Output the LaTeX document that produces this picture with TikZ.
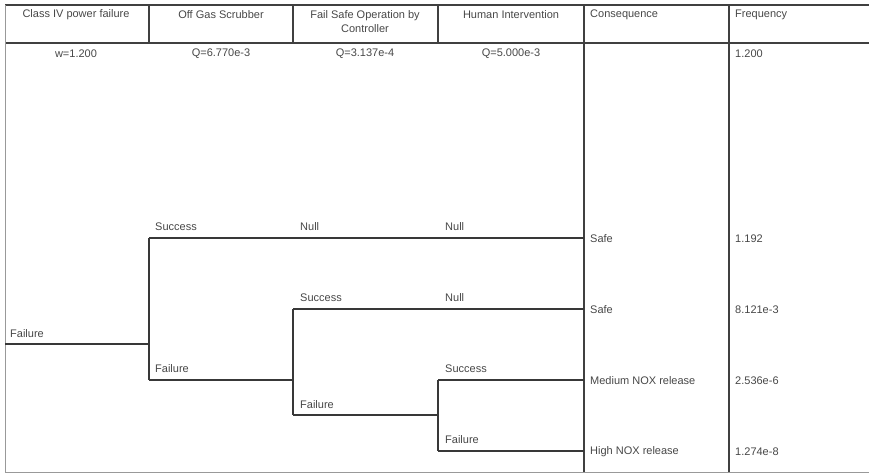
\documentclass[tikz,border=0pt]{standalone}
\usepackage{fontspec}
\setmainfont{Liberation Sans}
\begin{document}
\begin{tikzpicture}[x=1pt,y=-1pt,
  txt/.style={font=\fontsize{11}{14}\selectfont, text=black!72, inner sep=0pt},
  head/.style={txt, align=center, anchor=center},
  headl/.style={txt, anchor=west},
  lbl/.style={txt, anchor=west},
  tree/.style={line width=1.8pt, draw=black!78},
  frame/.style={line width=1.3pt, draw=black!75},
  edge/.style={line width=1pt, draw=black!40},
]
\useasboundingbox (0,0) rectangle (869,473);

% ---- table frame ----
\draw[frame] (5,5) -- (869,5);
\draw[frame] (5,43) -- (869,43);
\foreach \x in {149,293,438}
  \draw[frame] (\x,5) -- (\x,43);
\draw[frame] (584,5) -- (584,473);
\draw[frame] (729,5) -- (729,473);
\draw[edge] (5,5) -- (5,472) -- (869,472);

% ---- column headings ----
\node[head] (h1) at (76,15) {Class IV power failure};
\node[head] (h2) at (221,15) {Off Gas Scrubber};
\node[head] (h3) at (365,22) {Fail Safe Operation by\\Controller};
\node[head] (h4) at (511,15) {Human Intervention};
\node[headl] (h5) at (590,15) {Consequence};
\node[headl] (h6) at (735,15) {Frequency};

% ---- event values ----
\node[head] (v1) at (76,54) {w=1.200};
\node[head] (v2) at (221,54) {Q=6.770e-3};
\node[head] (v3) at (365,54) {Q=3.137e-4};
\node[head] (v4) at (511,54) {Q=5.000e-3};
\node[headl] (v6) at (735,54) {1.200};

% ---- branch points ----
\coordinate (root) at (5,344);
\coordinate (b1)   at (149,344);
\coordinate (b1s)  at (149,238);
\coordinate (b1f)  at (149,380);
\coordinate (b2s)  at (293,309);
\coordinate (b2f)  at (293,415);
\coordinate (b2)   at (293,380);
\coordinate (b3s)  at (438,380);
\coordinate (b3f)  at (438,451);
\coordinate (b3)   at (438,415);
\coordinate (e1)   at (584,238);
\coordinate (e2)   at (584,309);
\coordinate (e3)   at (584,380);
\coordinate (e4)   at (584,451);

% ---- event tree ----
\draw[tree] (root) -- (b1);
\draw[tree] (b1s) -- (b1f);
\draw[tree] (b1s) -- (e1);
\draw[tree] (b1f) -- (b2);
\draw[tree] (b2s) -- (b2f);
\draw[tree] (b2s) -- (e2);
\draw[tree] (b2f) -- (b3);
\draw[tree] (b3s) -- (b3f);
\draw[tree] (b3s) -- (e3);
\draw[tree] (b3f) -- (e4);

% ---- branch labels ----
\node[lbl] (l0)  at (10,334)  {Failure};
\node[lbl] (l1s) at (155,227) {Success};
\node[lbl] (l1n) at (300,227) {Null};
\node[lbl] (l1m) at (445,227) {Null};
\node[lbl] (l1f) at (155,369) {Failure};
\node[lbl] (l2s) at (300,298) {Success};
\node[lbl] (l2n) at (445,298) {Null};
\node[lbl] (l2f) at (300,405) {Failure};
\node[lbl] (l3s) at (445,369) {Success};
\node[lbl] (l3f) at (445,440) {Failure};

% ---- consequences and frequencies ----
\node[lbl] (c1) at (590,239) {Safe};
\node[lbl] (c2) at (590,310) {Safe};
\node[lbl] (c3) at (590,381) {Medium NOX release};
\node[lbl] (c4) at (590,452) {High NOX release};
\node[lbl] (f1) at (735,239) {1.192};
\node[lbl] (f2) at (735,310) {8.121e-3};
\node[lbl] (f3) at (735,381) {2.536e-6};
\node[lbl] (f4) at (735,452) {1.274e-8};
\end{tikzpicture}
\end{document}
